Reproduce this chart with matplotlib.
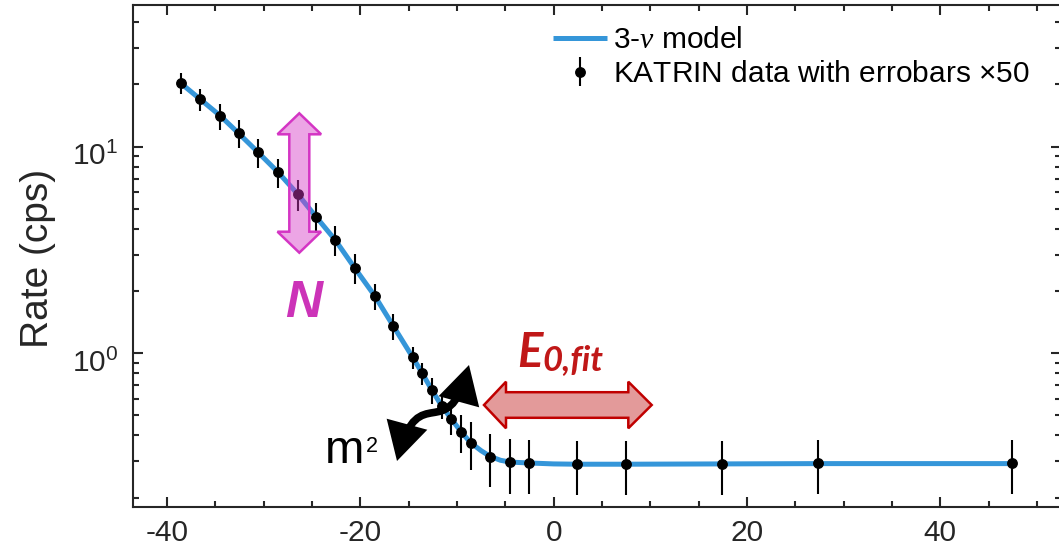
import matplotlib
matplotlib.use('Agg')
import matplotlib.pyplot as plt
from matplotlib.patches import Polygon, FancyArrowPatch
from matplotlib.path import Path
from matplotlib.transforms import ScaledTranslation
from matplotlib.ticker import MultipleLocator, LogLocator, NullFormatter, FixedLocator, FixedFormatter

plt.rcParams['font.family'] = ['Liberation Sans', 'DejaVu Sans']
plt.rcParams['mathtext.fontset'] = 'custom'
plt.rcParams['mathtext.rm'] = 'Liberation Sans'
plt.rcParams['mathtext.it'] = 'Liberation Serif:italic'
plt.rcParams['mathtext.bf'] = 'Liberation Sans:bold'
plt.rcParams['axes.unicode_minus'] = False

# ---------------- data ----------------
qU = [-38.6, -36.6, -34.5, -32.6, -30.6, -28.5, -26.5, -24.6, -22.6, -20.6,
      -18.5, -16.6, -14.6, -13.6, -12.6, -11.6, -10.6, -9.55, -8.6, -6.55,
      -4.5, -2.55, 2.45, 7.45, 17.4, 27.4, 47.4]
rate = [20.3, 17.0, 14.1, 11.6, 9.4, 7.5, 5.9, 4.58, 3.53, 2.59,
        1.89, 1.355, 0.957, 0.80, 0.662, 0.557, 0.481, 0.415, 0.369, 0.316,
        0.297, 0.295, 0.291, 0.291, 0.291, 0.293, 0.293]
rate_err = [2.3, 2.1, 2.0, 1.8, 1.5, 1.2, 1.0, 0.77, 0.58, 0.43,
            0.28, 0.20, 0.12, 0.098, 0.094, 0.075, 0.081, 0.087, 0.097, 0.091,
            0.088, 0.087, 0.086, 0.086, 0.086, 0.086, 0.086]

model_qU = [-38.6, -36.6, -34.5, -32.6, -30.6, -28.5, -26.5, -24.6, -22.6, -20.6,
            -18.5, -16.6, -14.6, -13.6, -12.6, -11.6, -10.6, -9.55, -8.6, -7.5,
            -6.55, -5.5, -4.5, -2.55, 0.0, 2.45, 7.45, 17.4, 27.4, 47.4]
model_rate = [20.3, 17.0, 14.1, 11.6, 9.4, 7.5, 5.9, 4.58, 3.53, 2.59,
              1.89, 1.355, 0.957, 0.80, 0.662, 0.557, 0.481, 0.415, 0.369, 0.337,
              0.316, 0.303, 0.297, 0.294, 0.291, 0.290, 0.290, 0.291, 0.292, 0.292]

xticks = [-40, -20, 0, 20, 40]
xtick_labels = ['-40', '-20', '0', '20', '40']
ylabel = 'Rate (cps)'
legend_labels = [r'3-$\nu$ model', r'KATRIN data with errobars $\times$50']

# ---------------- figure ----------------
W, H = 1059, 555
fig = plt.figure(figsize=(W / 100, H / 100), dpi=100)
ax = fig.add_axes([133.3 / W, 1 - 507 / H, (1061 - 133.3) / W, (507 - 5) / H])

line_model, = ax.plot(model_qU, model_rate, color='#3596d9', lw=3.6,
                      solid_capstyle='butt', zorder=2)
eb = ax.errorbar(qU, rate, yerr=rate_err, fmt='o', color='k', ms=6.8,
                 elinewidth=1.5, capsize=0, zorder=3)

ax.set_yscale('log')
ax.set_xlim(-43.5, 52.5)
ax.set_ylim(0.18, 48.5)

ax.xaxis.set_major_locator(FixedLocator(xticks))
ax.xaxis.set_major_formatter(FixedFormatter(xtick_labels))
ax.xaxis.set_minor_locator(MultipleLocator(5))
ax.yaxis.set_major_locator(LogLocator(base=10))
ax.yaxis.set_minor_locator(LogLocator(base=10, subs=range(2, 10)))
ax.yaxis.set_minor_formatter(NullFormatter())

dark = '#262626'
ax.tick_params(which='both', direction='in', top=True, right=True,
               width=1.5, color=dark, labelcolor=dark, labelsize=21.5)
ax.tick_params(which='major', length=7.2)
ax.tick_params(which='minor', length=4)
ax.tick_params(axis='x', which='major', pad=8.5)
ax.tick_params(axis='y', which='major', pad=11)
for s in ax.spines.values():
    s.set_linewidth(1.5)
    s.set_color(dark)

# nudge the y tick labels slightly down, as in the reference
shift = ScaledTranslation(0, -5 / 72, fig.dpi_scale_trans)
for lab in ax.yaxis.get_majorticklabels():
    lab.set_transform(lab.get_transform() + shift)

ax.set_ylabel(ylabel, fontsize=28, color=dark)
ax.yaxis.set_label_coords(-0.083, 0.496)

leg = ax.legend([line_model, eb], legend_labels, loc='upper left',
                bbox_to_anchor=(553 / W, 1 - 26 / H), bbox_transform=fig.transFigure,
                frameon=False, fontsize=21.5, handlelength=1.8, handletextpad=0.2,
                labelspacing=0.2, borderpad=0, borderaxespad=0)
for t in leg.get_texts():
    t.set_color('k')

# ---------------- annotations (figure pixel coordinates) ----------------
def P(x, y):
    return (x / W, 1 - y / H)

# pink vertical double arrow (N)
cx = 299.3
pink_pts = [(cx, 113.3), (cx + 21.8, 134.3), (cx + 10, 134.3), (cx + 10, 231.7),
            (cx + 21.8, 231.7), (cx, 252.7), (cx - 21.8, 231.7), (cx - 10, 231.7),
            (cx - 10, 134.3), (cx - 21.8, 134.3)]
fig.add_artist(Polygon([P(*p) for p in pink_pts], closed=True,
                       transform=fig.transFigure,
                       facecolor=(0.84, 0.22, 0.78, 0.45), edgecolor='#d435c4',
                       lw=1.8, joinstyle='miter', zorder=5))
fig.text(*P(303.5, 303.5), 'N', fontsize=37, fontweight='bold', fontstyle='italic',
         color='#cc33b8', ha='center', va='center')

# red horizontal double arrow (E0,fit)
cy = 405
red_pts = [(484, cy), (506, cy - 23.3), (506, cy - 12.8), (628.3, cy - 12.8),
           (628.3, cy - 23.3), (651.7, cy), (628.3, cy + 23.3), (628.3, cy + 12.8),
           (506, cy + 12.8), (506, cy + 23.3)]
fig.add_artist(Polygon([P(*p) for p in red_pts], closed=True,
                       transform=fig.transFigure,
                       facecolor='#e39a9a', edgecolor='#c00000',
                       lw=1.8, joinstyle='miter', zorder=5))
efont = ['Lato', 'Liberation Sans']
fig.text(*P(517, 367), 'E', fontsize=34, fontweight='bold', fontstyle='italic',
         family=efont, color='#c01818', ha='left', va='baseline')
fig.text(*P(542, 370), '0,fit', fontsize=25, fontweight='bold', fontstyle='italic',
         family=efont, color='#c01818', ha='left', va='baseline')

# black S-shaped double arrow (m^2)
verts = [P(397, 461), P(419, 380), P(447, 445), P(469, 365)]
codes = [Path.MOVETO, Path.CURVE4, Path.CURVE4, Path.CURVE4]
sarrow = FancyArrowPatch(path=Path(verts, codes),
                         arrowstyle='<|-|>,head_length=19,head_width=10.5',
                         transform=fig.transFigure, color='k', lw=5.5,
                         joinstyle='miter', capstyle='butt', zorder=6)
fig.add_artist(sarrow)
fig.text(*P(325, 463), 'm', fontsize=34, color='k', ha='left', va='baseline')
fig.text(*P(366, 452), '2', fontsize=15.5, color='k', ha='left', va='baseline')

fig.savefig('out.png', dpi=100)
